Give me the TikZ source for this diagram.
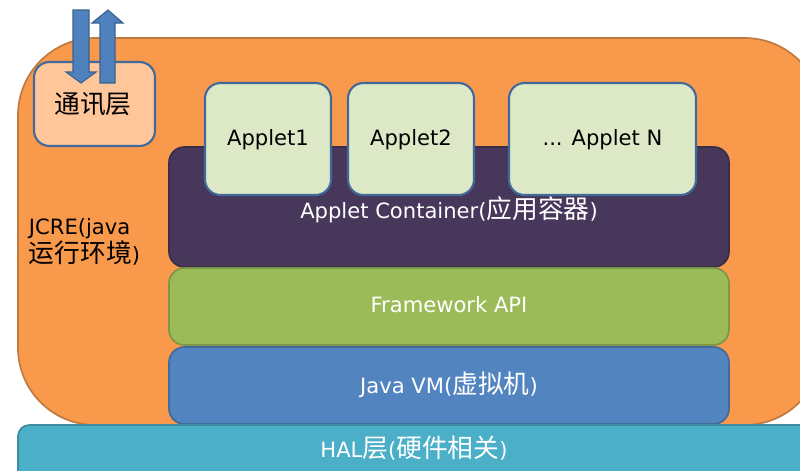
\documentclass[tikz,border=0pt]{standalone}
\usepackage{fontspec}
\setmainfont{DejaVu Sans}
\newfontfamily\cjk[Scale=1.22]{Noto Sans CJK SC}
\newcommand{\zh}[1]{{\cjk #1}}

\definecolor{jcreorange}{HTML}{F9994B}
\definecolor{jcreedge}{HTML}{C07A40}
\definecolor{commfill}{HTML}{FEC699}
\definecolor{appfill}{HTML}{DDE9C6}
\definecolor{boxedge}{HTML}{41699A}
\definecolor{contpurple}{HTML}{47385B}
\definecolor{fwgreen}{HTML}{9BBB59}
\definecolor{vmblue}{HTML}{5285C0}
\definecolor{halcyan}{HTML}{4BAFC8}
\definecolor{arrowblue}{HTML}{4F81BD}

\begin{document}
\begin{tikzpicture}[x=0.025cm,y=-0.025cm,
    txt/.style={font=\fontsize{15}{20}\selectfont},
    wtxt/.style={txt,text=white},
    layer/.style={draw=#1!80!black,fill=#1,line width=1.2pt,rounded corners=11pt},
    appbox/.style={draw=boxedge,fill=appfill,line width=1.5pt,rounded corners=11pt},
    blockarrow/.style={draw=arrowblue!75!black,fill=arrowblue,line width=0.8pt}]
  \useasboundingbox (0,0) rectangle (800,470);
  \clip (0,0) rectangle (800,470);

  % JCRE
  \draw[draw=jcreedge,fill=jcreorange,line width=1.2pt,rounded corners=55pt] (18,38) rectangle (822,425);
  \node[txt,anchor=west,align=left] (jcre) at (24,242) {JCRE(java\\\zh{运行环境})};

  % comm layer
  \draw[draw=boxedge,fill=commfill,line width=1.5pt,rounded corners=11pt] (34,62) rectangle (155,146);
  \node[txt] (comm) at (93,104) {\zh{通讯层}};
  \draw[blockarrow] (73,10) -- (89,10) -- (89,72) -- (96,72) -- (81,83) -- (66,72) -- (73,72) -- cycle;
  \draw[blockarrow] (100,83) -- (115,83) -- (115,23) -- (123,23) -- (108,10) -- (92,23) -- (100,23) -- cycle;

  % layers
  \draw[layer=contpurple] (169,147) rectangle (729,267);
  \node[wtxt] (cont) at (449,210) {Applet Container(\zh{应用容器})};
  \draw[layer=fwgreen] (169,268) rectangle (729,345);
  \node[wtxt] (fw) at (449,305) {Framework API};
  \draw[layer=vmblue] (169,347) rectangle (729,424);
  \node[wtxt] (vm) at (449,385) {Java VM(\zh{虚拟机})};

  % applets
  \foreach \x/\w/\name/\lbl in {205/126/app1/Applet1,348/126/app2/Applet2,509/187/appn/{.\kern0pt.\kern0pt. Applet N}} {
    \draw[appbox] (\x,83) rectangle ++(\w,112);
    \node[txt] (\name) at (\x+\w/2,140) {\lbl};
  }

  % HAL
  \draw[layer=halcyan,rounded corners=8pt] (18,425) rectangle (830,490);
  \node[wtxt] (hal) at (414,448) {HAL\zh{层}(\zh{硬件相关})};
\end{tikzpicture}
\end{document}
